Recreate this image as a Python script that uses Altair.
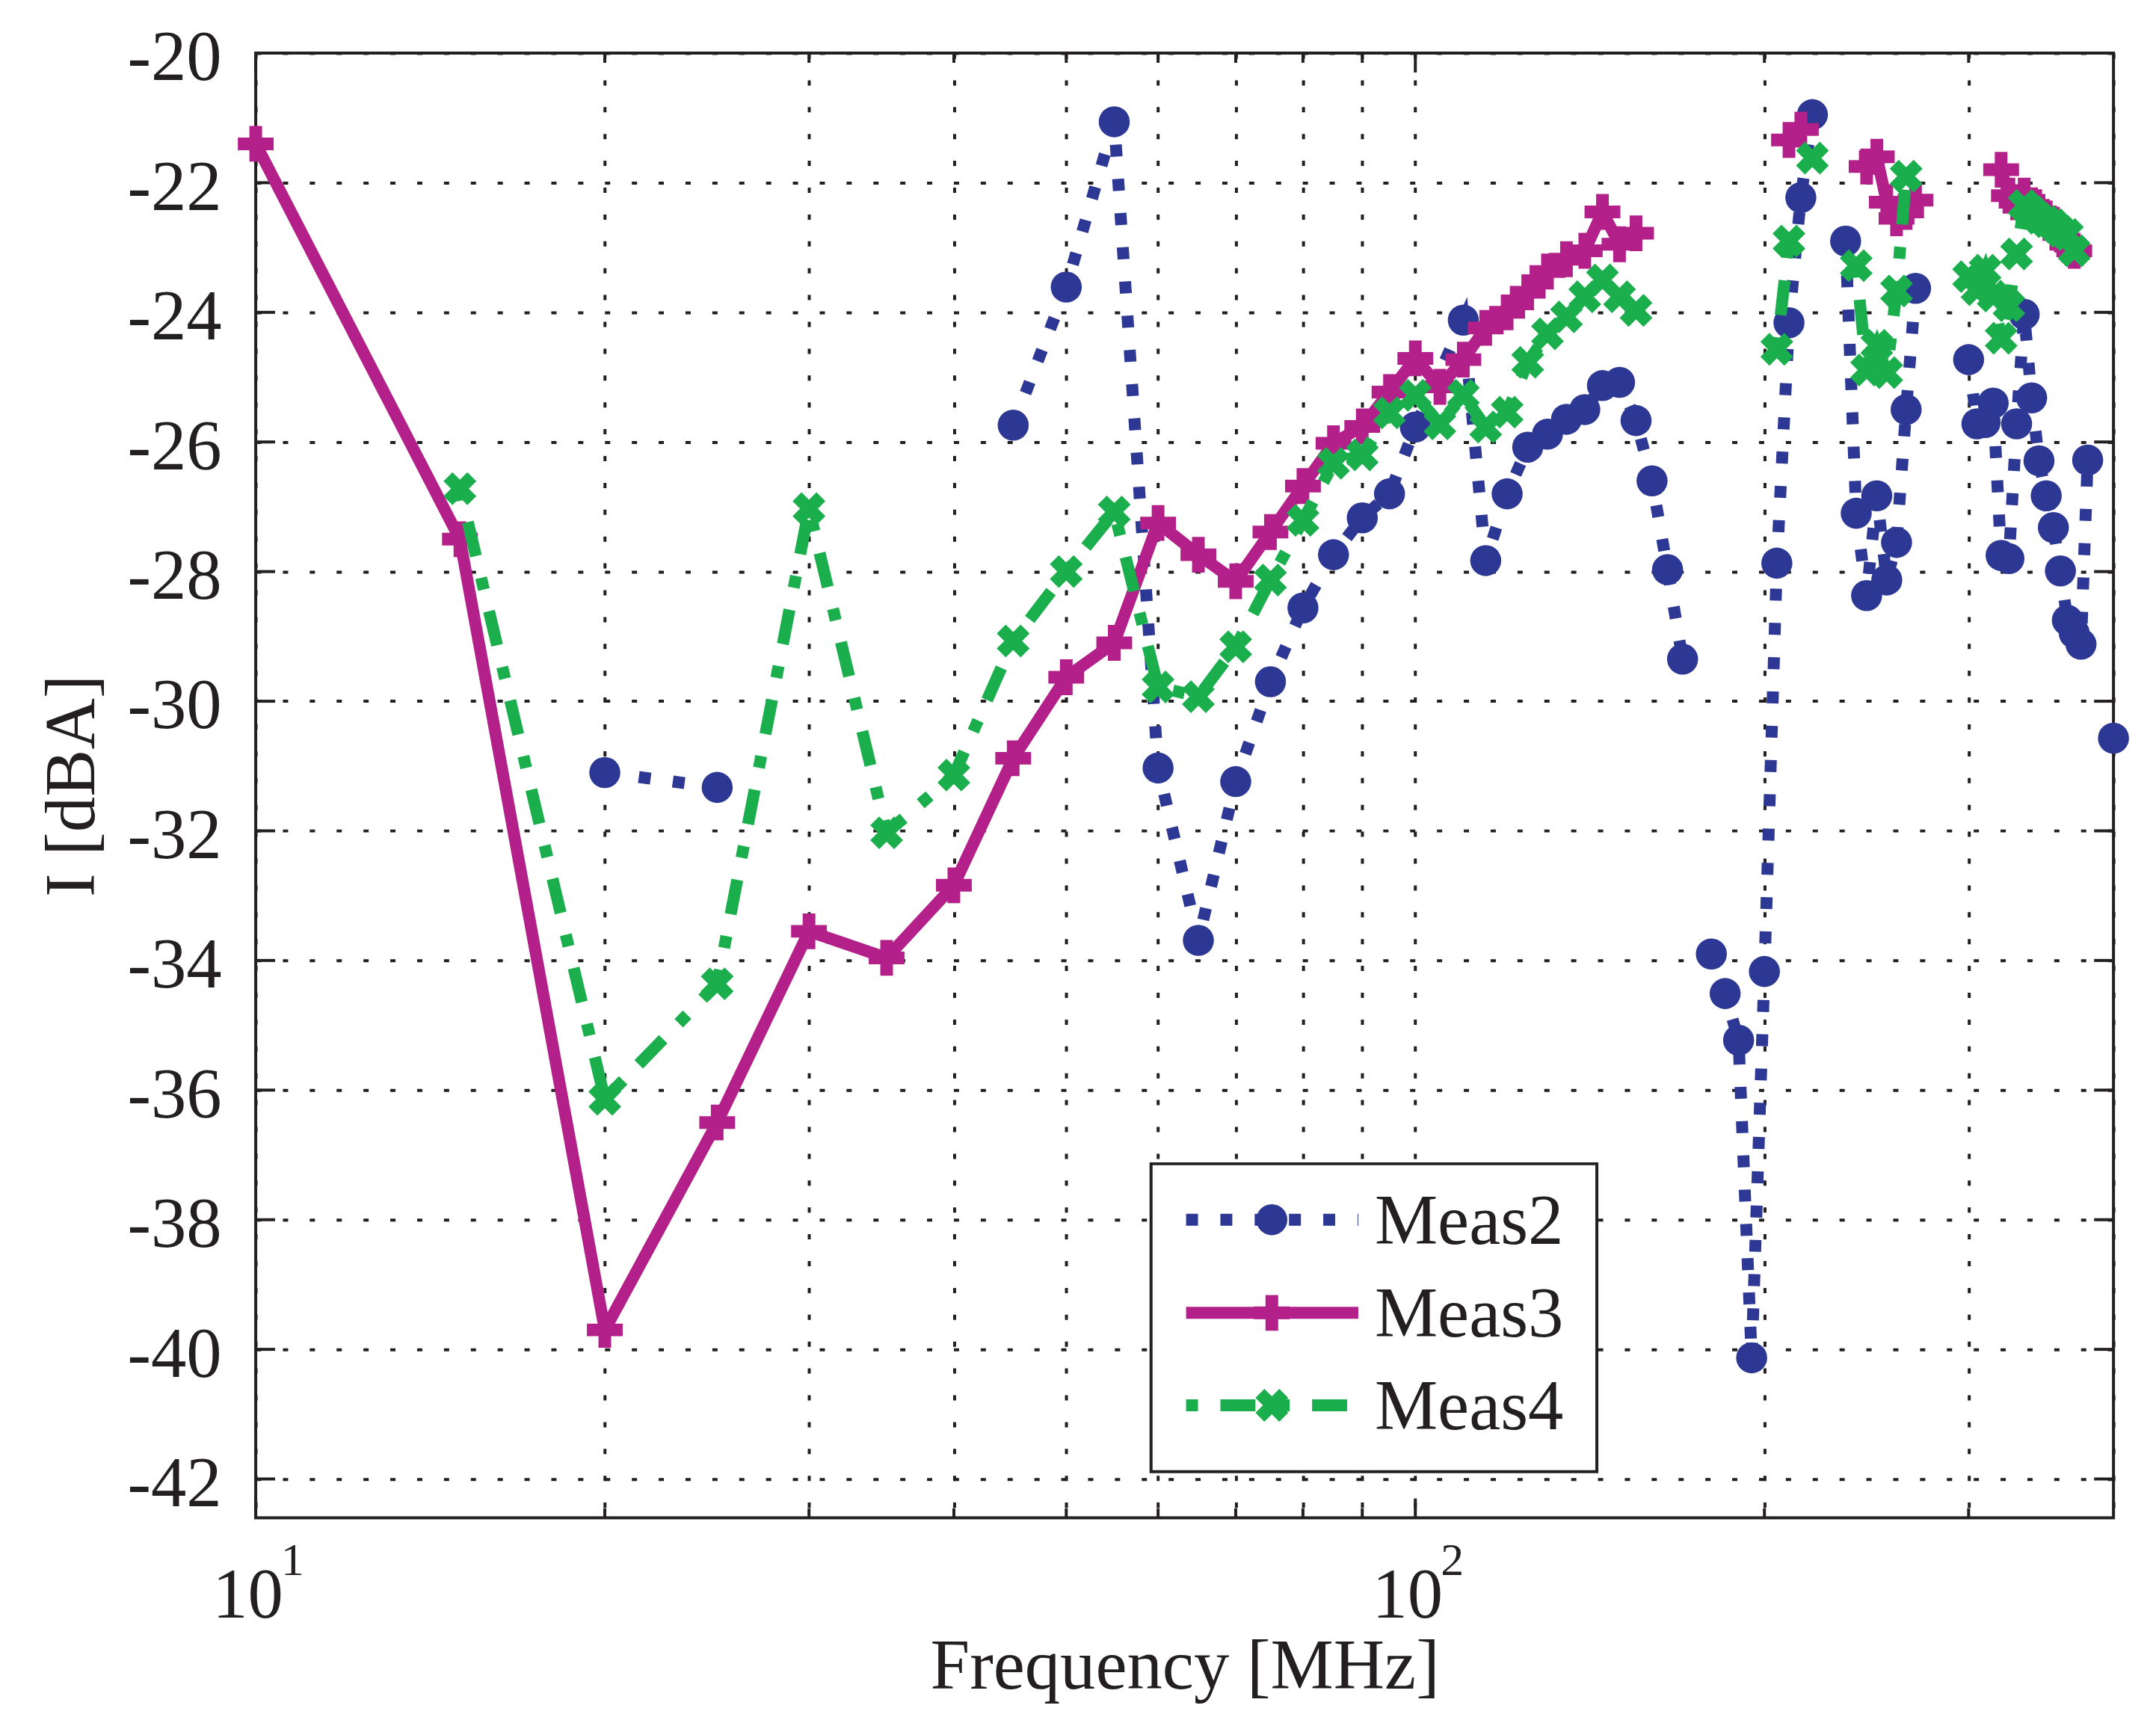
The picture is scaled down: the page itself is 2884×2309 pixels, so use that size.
import altair as alt
import pandas as pd

# ---------------- data (None = gap in the measured curve) ----------------
meas2_f = [20, 25, None,
           45, 50, 55, 60, 65, 70, 75, 80, 85, 90, 95, 100, 110, 115, 120, 125,
           130, 135, 140, 145, 150, 155, 160, 165, 170, None,
           180, 185, 190, 195, 200, 205, 210, 215, 220, None,
           235, 240, 245, 250, 255, 260, 265, 270, None,
           300, 305, 310, 315, 320, 325, 330, 335, 340, 345, 350, 355, 360, 365,
           370, 375, 380, None,
           400]
meas2_v = [-31.1, -31.33, None,
           -25.74, -23.61, -21.06, -31.03, -33.69, -31.24, -29.7, -28.56, -27.74,
           -27.17, -26.8, -25.77, -24.12, -27.83, -26.8, -26.08,
           -25.88, -25.65, -25.5, -25.13, -25.08, -25.67, -26.6, -27.97, -29.35, None,
           -33.9, -34.51, -35.23, -40.13, -34.17, -27.87, -24.16, -22.23, -20.95, None,
           -22.9, -27.1, -28.37, -26.83, -28.13, -27.55, -25.5, -23.63, None,
           -24.73, -25.72, -25.7, -25.4, -27.75, -27.8, -25.72, -24.03, -25.32,
           -26.29, -26.83, -27.32, -27.99, -28.75,
           -28.95, -29.12, -26.28, None,
           -30.57]

meas3_f = [10, 15, 20, 25, 30, 35, 40, 45, 50, 55, 60, 65, 70, 75, 80, 85, 90, 95,
           100, 105, 110, 115, 120, 125, 130, 135, 140, 145, 150, 155, None,
           210, 215, None,
           245, 250, 255, 260, 265, 270, None,
           320, 325, 330, 335, 340, 345, 350, 355, 360, 365, 370]
meas3_v = [-21.4, -27.5, -39.7, -36.5, -33.55, -33.96, -32.84, -30.88, -29.63,
           -29.1, -27.25, -27.74, -28.15, -27.39, -26.68, -26.02, -25.76, -25.23,
           -24.71, -25.15, -24.73, -24.24, -24.0, -23.69, -23.37, -23.18, -23.05,
           -22.45, -22.95, -22.78, None,
           -21.34, -21.18, None,
           -21.75, -21.6, -22.3, -22.55, -22.45, -22.27, None,
           -21.8, -22.2, -22.3, -22.2, -22.35, -22.45, -22.55, -22.65, -22.8,
           -22.95, -23.05]

meas4_f = [15, 20, 25, 30, 35, 40, 45, 50, 55, 60, 65, 70, 75, 80, 85, 90, 95,
           100, 105, 110, 115, 120, 125, 130, 135, 140, 145, 150, 155, None,
           205, 210, None,
           220, None,
           240, 245, 250, 255, 260, 265, None,
           300, 305, 310, 315, 320, 325, 330, 335, 340, 345, 350, 355, 360, 365, 370]
meas4_v = [-26.72, -36.14, -34.36, -27.03, -32.03, -31.14, -29.07, -28.0, -27.08,
           -29.78, -29.93, -29.16, -28.13, -27.21, -26.33, -26.2, -25.55,
           -25.28, -25.72, -25.28, -25.77, -25.54, -24.77, -24.33, -24.07, -23.76,
           -23.5, -23.76, -23.97, None,
           -24.57, -22.9, None,
           -21.62, None,
           -23.28, -24.89, -24.51, -24.93, -23.67, -21.9, None,
           -23.45, -23.65, -23.35, -23.75, -24.4, -23.9, -23.1, -22.35, -22.45,
           -22.55, -22.6, -22.65, -22.75, -22.8, -23.05]

series_names = ["Meas2", "Meas3", "Meas4"]
x_major = [10, 100]
x_major_exp = ["1", "2"]
x_minor = [20, 30, 40, 50, 60, 70, 80, 90, 200, 300]
x_grid = [10, 20, 30, 40, 50, 60, 70, 80, 90, 100, 200, 300, 400]
y_ticks = [-42, -40, -38, -36, -34, -32, -30, -28, -26, -24, -22, -20]


def to_frame(name, fs, vs):
    rows, seg = [], 0
    for f, v in zip(fs, vs):
        if f is None or v is None:
            seg += 1
            continue
        rows.append({"series": name, "f": f, "v": v, "seg": seg})
    return pd.DataFrame(rows)


df2 = to_frame("Meas2", meas2_f, meas2_v)
df3 = to_frame("Meas3", meas3_f, meas3_v)
df4 = to_frame("Meas4", meas4_f, meas4_v)

# ---------------- styling ----------------
W, H = 2492, 1965
FONT = "Liberation Serif"
FS = 95
INK = "#231f20"
C2, C3, C4 = "#2c3894", "#b4208a", "#1aaf4c"
LW = 16
DASH2 = [16, 30]
DASH4 = [16, 30, 47, 30]
PLUS = "M-1,0L1,0M0,-1L0,1"
XSHAPE = "M-1,-1L1,1M-1,1L1,-1"

xscale = alt.Scale(type="log", domain=[10, 400], nice=False)
yscale = alt.Scale(domain=[-42.6, -20], nice=False, zero=False)

xaxis = alt.Axis(
    values=x_grid, grid=True, gridColor=INK, gridDash=[7, 29], gridWidth=4,
    gridOpacity=1, ticks=False, tickSize=0, domain=False,
    labelExpr="(datum.value == 10 || datum.value == 100) ? '10' : ''",
    labelFont=FONT, labelFontSize=FS, labelColor=INK, labelPadding=133,
    labelOffset=-11,
    labelBaseline="alphabetic", labelFlush=False, labelOverlap=False,
    title="Frequency [MHz]", titleFont=FONT, titleFontSize=FS,
    titleFontWeight="normal", titleColor=INK, titleX=W / 2, titleY=229,
    titleBaseline="alphabetic", titleAlign="center",
)
yaxis = alt.Axis(
    values=y_ticks, grid=True, gridColor=INK, gridDash=[7, 29], gridWidth=4,
    gridOpacity=1, ticks=False, tickSize=0, domain=False,
    labelExpr="'-' + abs(datum.value)",
    labelFont=FONT, labelFontSize=FS, labelColor=INK, labelPadding=46,
    labelAlign="right", labelBaseline="alphabetic", labelOffset=36,
    labelFlush=False, labelOverlap=False,
    title="I [dBA]", titleFont=FONT, titleFontSize=FS, titleFontWeight="normal",
    titleColor=INK, titleAngle=270, titleX=-217, titleY=H / 2,
    titleBaseline="alphabetic", titleAlign="center",
)


def X(field):
    return alt.X(f"{field}:Q", scale=xscale, axis=xaxis)


def Y(field):
    return alt.Y(f"{field}:Q", scale=yscale, axis=yaxis)


layers = []

# inward ticks (MATLAB style) on all four sides
xt_major = pd.DataFrame({"t": x_major, "e": x_major_exp})
xt_minor = pd.DataFrame({"t": x_minor})
yt = pd.DataFrame({"t": y_ticks})
for d, ln in ((xt_major, 26), (xt_minor, 13)):
    layers.append(alt.Chart(d).mark_rule(color=INK, strokeWidth=4).encode(
        x=X("t"), y=alt.value(H), y2=alt.value(H - ln)))
    layers.append(alt.Chart(d).mark_rule(color=INK, strokeWidth=4).encode(
        x=X("t"), y=alt.value(0), y2=alt.value(ln)))
layers.append(alt.Chart(yt).mark_rule(color=INK, strokeWidth=4).encode(
    y=Y("t"), x=alt.value(0), x2=alt.value(26)))
layers.append(alt.Chart(yt).mark_rule(color=INK, strokeWidth=4).encode(
    y=Y("t"), x=alt.value(W), x2=alt.value(W - 26)))

# superscript exponents of the decade labels (10^1, 10^2)
layers.append(alt.Chart(xt_major).mark_text(
    font=FONT, fontSize=62, color=INK, align="left", baseline="alphabetic",
    dx=34).encode(x=X("t"), y=alt.value(H + 77), text="e:N"))

# data series
specs = [
    (df2, C2, DASH2, dict(shape="circle", filled=True, size=1735, opacity=1)),
    (df3, C3, None, dict(shape=PLUS, filled=False, size=2304, strokeWidth=17, opacity=1)),
    (df4, C4, DASH4, dict(shape=XSHAPE, filled=False, size=1024, strokeWidth=17, opacity=1)),
]
for d, col, dash, pt in specs:
    lkw = dict(color=col, strokeWidth=LW, strokeCap="butt", strokeJoin="miter")
    if dash:
        lkw["strokeDash"] = dash
    layers.append(alt.Chart(d).mark_line(**lkw).encode(
        x=X("f"), y=Y("v"), detail="seg:N", order="f:Q"))
    layers.append(alt.Chart(d).mark_point(color=col, **pt).encode(
        x=X("f"), y=Y("v")))

# legend (boxed, MATLAB style)
layers.append(alt.Chart(pd.DataFrame({"a": [0]})).mark_rect(
    fill="white", stroke=INK, strokeWidth=4).encode(
    x=alt.value(1201), x2=alt.value(1799), y=alt.value(1490), y2=alt.value(1903)))
row_y = [1565, 1690, 1814]
for (d, col, dash, pt), name, ry in zip(specs, series_names, row_y):
    one = pd.DataFrame({"series": [name]})
    rkw = dict(color=col, strokeWidth=LW, strokeCap="butt")
    if dash:
        rkw["strokeDash"] = dash
    layers.append(alt.Chart(one).mark_rule(**rkw).encode(
        x=alt.value(1248), x2=alt.value(1479), y=alt.value(ry)))
    layers.append(alt.Chart(one).mark_point(color=col, **pt).encode(
        x=alt.value(1363), y=alt.value(ry)))
    layers.append(alt.Chart(one).mark_text(
        font=FONT, fontSize=FS, color=INK, align="left", baseline="alphabetic").encode(
        x=alt.value(1501), y=alt.value(ry + 32), text="series:N"))

chart = alt.layer(*layers).properties(
    width=W, height=H,
    autosize=alt.AutoSizeParams(type="none"),
    padding={"left": 335, "top": 60, "right": 49, "bottom": 268},
    background="white",
).configure_view(stroke=INK, strokeWidth=4)

chart.save("out.html", embed_options={"renderer": "svg", "actions": False})
